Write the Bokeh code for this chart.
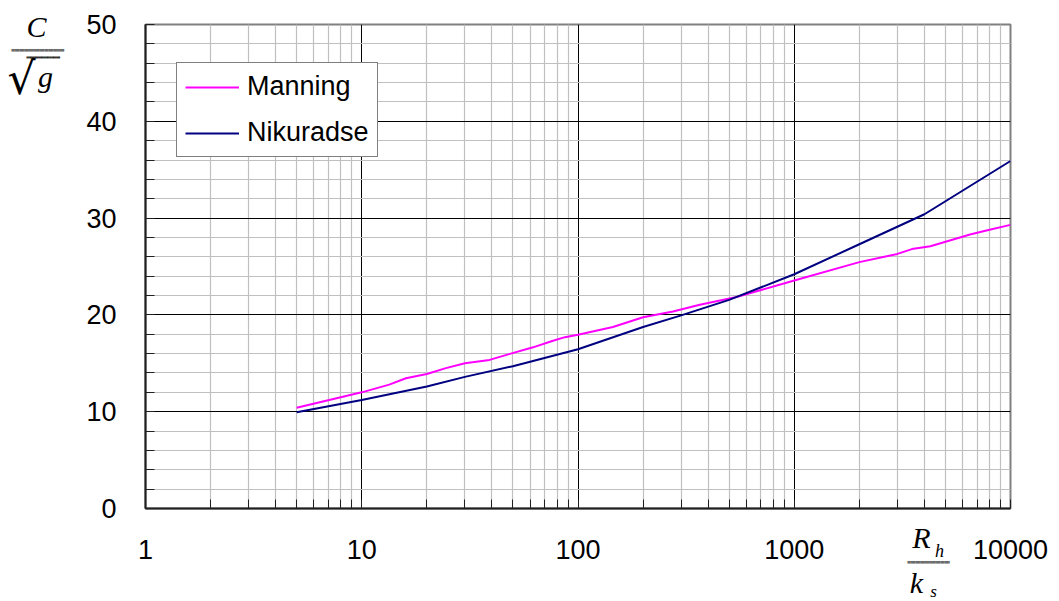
from bokeh.plotting import figure
from bokeh.models import Range1d, FixedTicker, NumeralTickFormatter, Label
from bokeh.embed import file_html
from bokeh.resources import INLINE

# ---- data ----
rh_ks_manning = [5, 10, 13.4, 16, 20, 24.5, 30, 39, 48, 62, 76, 87, 100, 145, 200, 275, 366,
                 541, 1000, 2000, 3000, 3500, 4260, 6500, 8000, 10000]
c_manning = [10.4, 12.0, 12.8, 13.45, 13.9, 14.5, 15.0, 15.35, 15.95, 16.65, 17.3, 17.7, 17.95,
             18.75, 19.75, 20.35, 21.05, 21.85, 23.55, 25.45, 26.3, 26.8, 27.1, 28.3, 28.8, 29.3]

rh_ks_nikuradse = [5, 10, 20, 30, 50, 100, 200, 300, 500, 1000, 2000, 4000, 10000]
c_nikuradse = [9.95, 11.2, 12.6, 13.6, 14.7, 16.45, 18.75, 19.95, 21.55, 24.2, 27.3, 30.4, 35.9]

x_ticks = [1, 10, 100, 1000, 10000]
y_ticks = [0, 10, 20, 30, 40, 50]

W, H = 1058, 600
p = figure(width=W, height=H, x_axis_type="log",
           x_range=Range1d(1, 10000), y_range=Range1d(0, 50),
           output_backend="svg", toolbar_location=None,
           min_border_left=145, min_border_right=W - 1010, min_border_top=24,
           min_border_bottom=H - 508)

p.line(rh_ks_manning, c_manning, line_color="#ff00ff", line_width=2, legend_label="Manning")
p.line(rh_ks_nikuradse, c_nikuradse, line_color="#000080", line_width=2, legend_label="Nikuradse")

x_minor = [d * k for d in [1, 10, 100, 1000] for k in range(2, 10)]
y_minor = [v for v in range(0, 51, 2) if v % 10 != 0]
p.xaxis.ticker = FixedTicker(ticks=x_ticks, minor_ticks=x_minor)
p.yaxis.ticker = FixedTicker(ticks=y_ticks, minor_ticks=y_minor)
p.xaxis.formatter = NumeralTickFormatter(format="0")
p.yaxis.formatter = NumeralTickFormatter(format="0")

for ax in (p.xaxis, p.yaxis):
    ax.major_tick_in = 9
    ax.major_tick_out = 0
    ax.minor_tick_in = 9
    ax.minor_tick_out = 0
    ax.major_tick_line_color = "#202020"
    ax.minor_tick_line_color = "#202020"
    ax.axis_line_color = "#202020"
    ax.axis_line_width = 2
    ax.major_label_text_font = "Liberation Sans"
    ax.major_label_text_font_size = "27px"
    ax.major_label_text_color = "black"
p.xaxis.major_label_standoff = 31
p.yaxis.major_label_standoff = 29

for g in (p.xgrid, p.ygrid):
    g.grid_line_color = "black"
    g.grid_line_width = 1
    g.minor_grid_line_color = "#c0c0c0"
    g.minor_grid_line_width = 1.2

p.outline_line_color = "#808080"
p.outline_line_width = 2
p.background_fill_color = "white"
p.border_fill_color = "white"

lg = p.legend[0]
lg.location = (31, 351)
lg.label_text_font = "Liberation Sans"
lg.label_text_font_size = "27px"
lg.label_text_color = "black"
lg.border_line_color = "black"
lg.border_line_width = 1
lg.background_fill_color = "white"
lg.background_fill_alpha = 1
lg.padding = 8
lg.spacing = 15
lg.label_height = 30
lg.glyph_height = 30
lg.glyph_width = 54
lg.label_standoff = 8
lg.margin = 0

serif = "Liberation Serif"

# Annotations outside the frame must live in a side panel (otherwise they are clipped);
# canvas units keep their position independent of the panel they are in.
def lab(x, y, t, size, side, style="italic", font=serif):
    p.add_layout(Label(x=x, y=y, x_units="canvas", y_units="canvas", text=t,
                       text_font=font, text_font_size=size, text_font_style=style,
                       text_align="center", text_baseline="middle", text_color="black"),
                 side)

def bar(x0, x1, y, fs, color, side="below"):
    n = int(round((x1 - x0) / (0.602 * fs)))
    p.add_layout(Label(x=x0, y=y, x_units="canvas", y_units="canvas", text="\u2588" * n,
                       text_font="DejaVu Sans Mono", text_font_size=f"{fs}px",
                       text_align="left", text_baseline="middle", text_color=color),
                 side)

# y axis title: C / sqrt(g)
lab(36, 26, "C", "30px", "right")
bar(11, 64, 50, 2.2, "#606060")
lab(21, 78, "\u221a", "44px", "left", "normal", "DejaVu Serif")
bar(26, 60, 57, 1.6, "black")
lab(45, 76, "g", "30px", "right")

# x axis title: R_h / k_s
lab(921, 537, "R", "30px", "left")
lab(939, 550, "h", "18px", "above")
bar(907, 949, 562, 2.2, "#606060")
lab(916, 582, "k", "30px", "left")
lab(933, 591, "s", "17px", "left")

open("out.html", "w").write(file_html(p, INLINE))
